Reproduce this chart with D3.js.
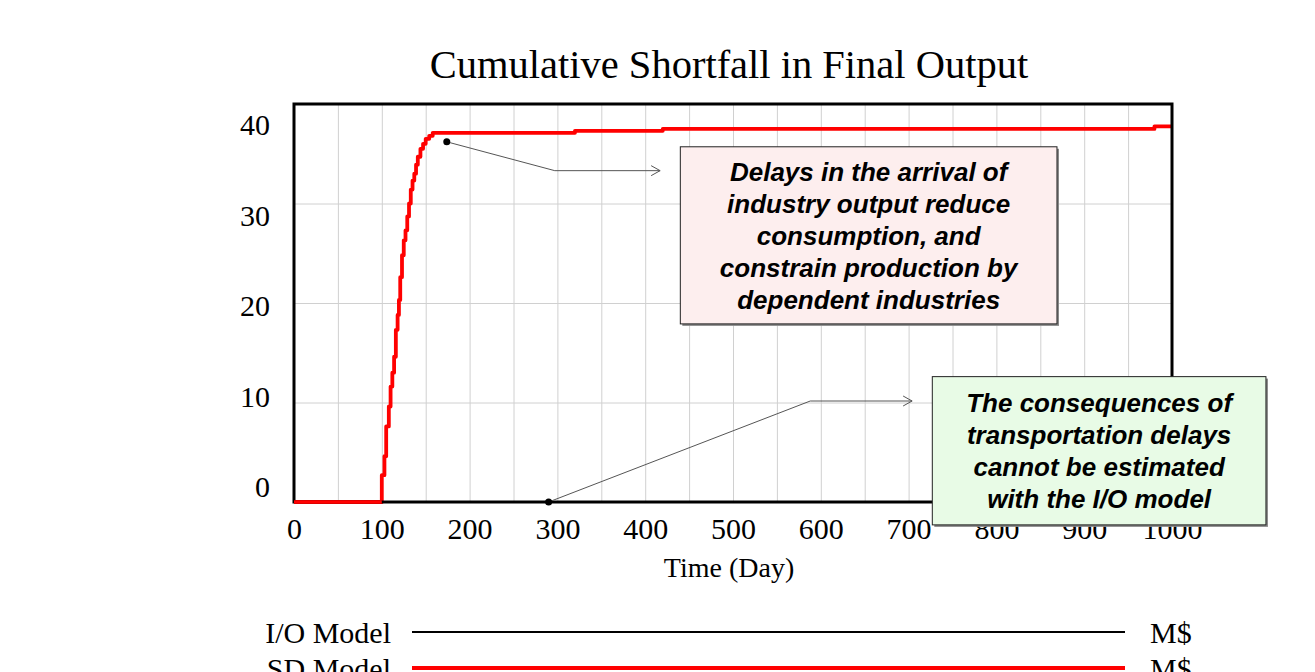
<!DOCTYPE html>
<html>
<head>
<meta charset="utf-8">
<script src="https://cdn.jsdelivr.net/npm/d3@7"></script>
<style>
  body { margin: 0; background: #fff; }
  svg { display: block; }
</style>
</head>
<body>
<div id="content"></div>
<script>
// ---- data ----
var title = "Cumulative Shortfall in Final Output";
var xLabel = "Time (Day)";
var xTicks = [0, 100, 200, 300, 400, 500, 600, 700, 800, 900, 1000];
var yTicks = [0, 10, 20, 30, 40];
var seriesNames = ["I/O Model", "SD Model"];
var seriesUnits = ["M$", "M$"];
var seriesColors = ["#000", "#ff0000"];

// I/O model stays at zero
var ioDays = [0, 1000];
var ioValues = [0, 0];

// SD model (stepped simulation output)
var sdDays = [0, 100, 103, 105, 108, 110, 112, 114, 116, 118, 119.5, 121, 123, 125, 127, 129, 131, 133, 135, 137, 139, 141, 144, 147, 150, 154, 158, 320, 420, 980, 1000];
var sdValues = [0, 2.7, 4.6, 7.6, 9.6, 11.6, 13.0, 14.6, 17.3, 18.8, 20.3, 22.6, 24.8, 26.3, 27.3, 28.7, 30.0, 31.4, 32.3, 33.0, 33.9, 34.7, 35.5, 36.0, 36.5, 36.8, 37.1, 37.3, 37.5, 37.75, 37.75];

// annotations (data coordinates)
var noteTexts = [
  ["Delays in the arrival of", "industry output reduce", "consumption, and", "constrain production by", "dependent industries"],
  ["The consequences of", "transportation delays", "cannot be estimated", "with the I/O model"]
];
var noteFills = ["#fdeeee", "#e8fbe6"];
var noteDots = [[174, 36.2], [290, 0]];
var noteElbows = [[297, 33.3], [588, 10.15]];
var noteArrows = [[417, 33.3], [704, 10.15]];
var noteBoxes = [[440, 35.7, 869, 17.9], [727, 12.6, 1107, -2.3]];

// ---- layout ----
var W = 1315, H = 672;
var margin = { top: 104, left: 294 },
    width = 1172 - 294,
    height = 502 - 104;

var serif = "'Liberation Serif', 'Times New Roman', serif";

var svg = d3.select("#content").append("svg")
    .attr("width", W)
    .attr("height", H);
svg.append("rect").attr("width", W).attr("height", H).attr("fill", "#fff");

var x = d3.scaleLinear().domain([0, 1000]).range([0, width]);
var y = d3.scaleLinear().domain([0, 40]).range([height, 0]);
// Vensim spreads its y labels evenly between the ends
var yLab = d3.scaleLinear().domain([0, 40]).range([height - 15, 21]);

svg.append("text")
    .attr("x", margin.left + width / 2 - 4)
    .attr("y", 78)
    .attr("text-anchor", "middle")
    .style("font-family", serif)
    .style("font-size", "40.5px")
    .text(title);

var g = svg.append("g")
    .attr("transform", "translate(" + margin.left + "," + margin.top + ")");

// grid
g.append("g")
    .attr("transform", "translate(0," + height + ")")
    .call(d3.axisBottom(x).tickValues(d3.range(50, 1000, 50)).tickSize(-height).tickFormat(""))
    .call(function (s) {
      s.select(".domain").remove();
      s.selectAll("line").attr("stroke", "#d0d0d0");
    });
g.append("g")
    .call(d3.axisLeft(y).tickValues([10, 20, 30]).tickSize(-width).tickFormat(""))
    .call(function (s) {
      s.select(".domain").remove();
      s.selectAll("line").attr("stroke", "#d0d0d0");
    });

// x labels
g.append("g")
    .attr("transform", "translate(0," + height + ")")
    .call(d3.axisBottom(x).tickValues(xTicks).tickSize(0).tickPadding(16).tickFormat(d3.format("d")))
    .call(function (s) {
      s.select(".domain").remove();
      s.selectAll("text")
        .attr("fill", "#000")
        .style("font-family", serif)
        .style("font-size", "30px");
    });
// y labels
g.append("g")
    .call(d3.axisLeft(yLab).tickValues(yTicks).tickSize(0).tickPadding(24))
    .call(function (s) {
      s.select(".domain").remove();
      s.selectAll("text")
        .attr("fill", "#000")
        .style("font-family", serif)
        .style("font-size", "30px");
    });

svg.append("text")
    .attr("x", margin.left + width / 2 - 4)
    .attr("y", 577)
    .attr("text-anchor", "middle")
    .style("font-family", serif)
    .style("font-size", "28px")
    .text(xLabel);

// lines
var ioLine = d3.line().x(function (d, i) { return x(ioDays[i]); }).y(function (d) { return y(d); });
var sdLine = d3.line().curve(d3.curveStepAfter)
    .x(function (d, i) { return x(sdDays[i]); }).y(function (d) { return y(d); });

g.append("path").datum(ioValues)
    .attr("d", ioLine).attr("fill", "none")
    .attr("stroke", seriesColors[0]).attr("stroke-width", 2);
g.append("path").datum(sdValues)
    .attr("d", sdLine).attr("fill", "none")
    .attr("stroke", seriesColors[1]).attr("stroke-width", 3.8)
    .attr("stroke-linejoin", "round");

// frame
g.append("rect")
    .attr("width", width).attr("height", height)
    .attr("fill", "none").attr("stroke", "#000").attr("stroke-width", 3);
g.append("path").datum(sdValues.slice(0, 2))
    .attr("d", d3.line().x(function (d, i) { return x(sdDays[i]); }).y(y(0)))
    .attr("stroke", seriesColors[1]).attr("stroke-width", 3.5);

// annotations
noteTexts.forEach(function (lines, k) {
  var b = noteBoxes[k];
  var ng = svg.append("g").attr("transform", "translate(" + margin.left + "," + margin.top + ")");
  var dot = noteDots[k], el = noteElbows[k], ar = noteArrows[k];
  ng.append("path")
    .attr("d", d3.line()([[x(dot[0]), y(dot[1])], [x(el[0]), y(el[1])], [x(ar[0]), y(ar[1])]]))
    .attr("fill", "none").attr("stroke", "#555").attr("stroke-width", 1);
  ng.append("path")
    .attr("d", d3.line()([[x(ar[0]) - 9, y(ar[1]) - 5], [x(ar[0]), y(ar[1])], [x(ar[0]) - 9, y(ar[1]) + 5]]))
    .attr("fill", "none").attr("stroke", "#555").attr("stroke-width", 1);
  ng.append("circle")
    .attr("cx", x(dot[0])).attr("cy", y(dot[1])).attr("r", 3.5).attr("fill", "#000");

  var bx = x(b[0]), by = y(b[1]), bw = x(b[2]) - x(b[0]), bh = y(b[3]) - y(b[1]);
  ng.append("rect")
    .attr("x", bx + 2).attr("y", by + 2).attr("width", bw).attr("height", bh)
    .attr("fill", "#888");
  ng.append("rect")
    .attr("x", bx).attr("y", by).attr("width", bw).attr("height", bh)
    .attr("fill", noteFills[k]).attr("stroke", "#222").attr("stroke-width", 1);
  var lh = 32;
  var top = by + bh / 2 - (lines.length - 1) * lh / 2;
  ng.selectAll(null).data(lines).enter().append("text")
    .attr("x", bx + bw / 2)
    .attr("y", function (d, i) { return top + i * lh; })
    .attr("dy", "0.36em")
    .attr("text-anchor", "middle")
    .style("font-family", "'Liberation Sans', Arial, sans-serif")
    .style("font-weight", "bold")
    .style("font-style", "italic")
    .style("font-size", "26px")
    .text(function (d) { return d; });
});

// legend
var lg = svg.append("g");
seriesNames.forEach(function (name, i) {
  var ly = 632 + i * 36;
  lg.append("text")
    .attr("x", 391).attr("y", ly).attr("dy", "0.35em")
    .attr("text-anchor", "end")
    .style("font-family", serif)
    .style("font-size", "30px")
    .text(name);
  lg.append("line")
    .attr("x1", 412).attr("x2", 1125).attr("y1", ly).attr("y2", ly)
    .attr("stroke", seriesColors[i]).attr("stroke-width", i == 0 ? 2 : 4);
  lg.append("text")
    .attr("x", 1150).attr("y", ly).attr("dy", "0.35em")
    .style("font-family", serif)
    .style("font-size", "30px")
    .text(seriesUnits[i]);
});
</script>
</body>
</html>
